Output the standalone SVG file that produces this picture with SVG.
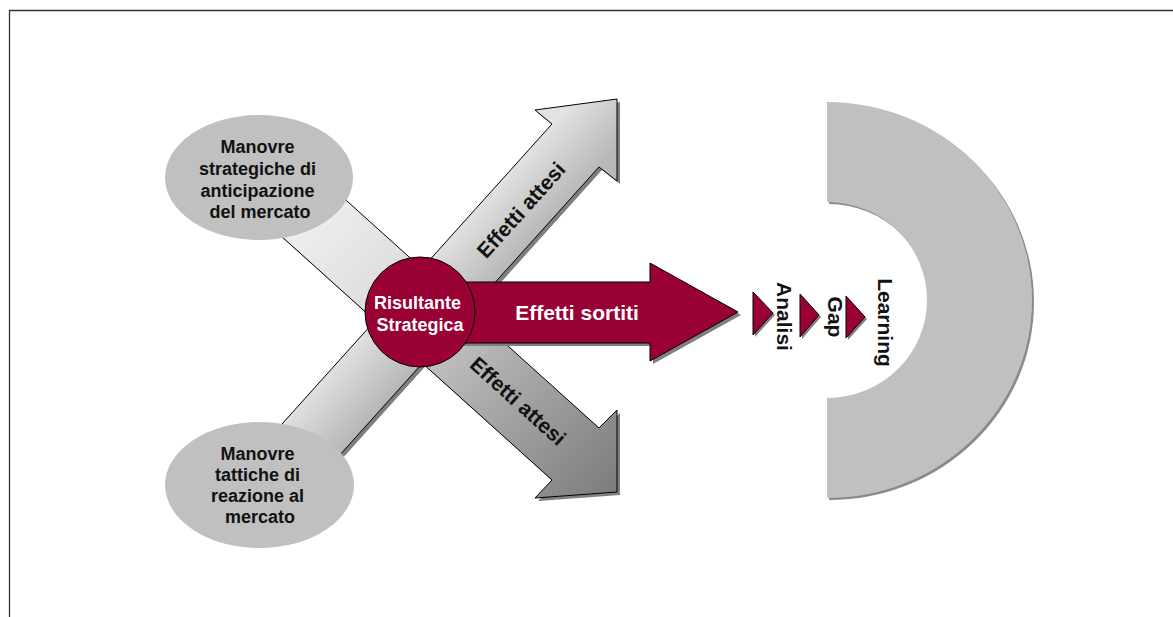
<svg xmlns="http://www.w3.org/2000/svg" xmlns:xlink="http://www.w3.org/1999/xlink" width="1173" height="617" viewBox="0 0 1173 617">
  <style>
    .lbl { font-family: "Liberation Sans", Arial, sans-serif; font-weight: bold; }
    .dark { fill: #111111; }
    .light { fill: #ffffff; }
    .outline { stroke: #000000; stroke-width: 1; stroke-linejoin: miter; }
    .shadow { fill: #7f7f7f; stroke: none; }
    .oval { fill: #c0c0c0; }
    .crimson { fill: #990033; }
  </style>
  <defs>
    <!-- diagonal arrow rising to the upper right -->
    <polygon id="arrowUp" points="617,99 617,181 599,167 311,487 264,444 552,124 535,110"/>
    <!-- diagonal arrow descending to the lower right -->
    <polygon id="arrowDown" points="617,492 617,410 599,428 287,147 240,199 552,480 535,498"/>
    <!-- horizontal outcome arrow -->
    <polygon id="arrowOut" points="420,282 650,282 650,263 738,312 650,361 650,343 420,343"/>
    <path id="ring" d="M827,102 A205,198 0 0 1 827,498 L827,398 A100,98 0 0 0 827,202 Z"/>
    <polygon id="tri1" points="753,292 773,313 753,335"/>
    <polygon id="tri2" points="800,294 819,315 800,337"/>
    <polygon id="tri3" points="846,296 865,317 846,338"/>
    <linearGradient id="gradUp" gradientUnits="userSpaceOnUse" x1="552" y1="124" x2="599" y2="167">
      <stop offset="0" stop-color="#e2e2e2"/>
      <stop offset="1" stop-color="#b8b8b8"/>
    </linearGradient>
    <linearGradient id="gradDown" gradientUnits="userSpaceOnUse" x1="263" y1="173" x2="617" y2="492">
      <stop offset="0" stop-color="#f8f8f8"/>
      <stop offset="0.35" stop-color="#dedede"/>
      <stop offset="0.6" stop-color="#b4b4b4"/>
      <stop offset="1" stop-color="#7c7c7c"/>
    </linearGradient>
  </defs>

  <!-- page frame -->
  <path d="M9.5,617 V10.5 H1173" fill="none" stroke="#333333" stroke-width="1.3"/>

  <!-- learning gap half ring -->
  <g id="learning-ring">
    <use xlink:href="#ring" fill="#8a8a8a" transform="translate(2,2)"/>
    <use xlink:href="#ring" fill="#c0c0c0"/>
  </g>

  <!-- small step markers -->
  <g id="step-markers">
    <use xlink:href="#tri1" class="shadow" transform="translate(2,2)"/>
    <use xlink:href="#tri2" class="shadow" transform="translate(2,2)"/>
    <use xlink:href="#tri3" class="shadow" transform="translate(2,2)"/>
    <use xlink:href="#tri1" class="crimson outline"/>
    <use xlink:href="#tri2" class="crimson outline"/>
    <use xlink:href="#tri3" class="crimson outline"/>
  </g>

  <g id="label-analisi">
    <text class="lbl dark" font-size="21" text-anchor="middle" transform="translate(777,316.5) rotate(90)">Analisi</text>
  </g>
  <g id="label-gap">
    <text class="lbl dark" font-size="21" text-anchor="middle" transform="translate(827.5,317) rotate(90)">Gap</text>
  </g>
  <g id="label-learning">
    <text class="lbl dark" font-size="21" text-anchor="middle" transform="translate(878,322.5) rotate(90)">Learning</text>
  </g>

  <!-- connectors: crossing arrows and outcome arrow -->
  <g id="connectors">
    <g id="arrow-attesi-down">
      <use xlink:href="#arrowDown" class="shadow" transform="translate(3,3)"/>
      <use xlink:href="#arrowDown" fill="url(#gradDown)" class="outline"/>
      <text class="lbl dark" font-size="21" text-anchor="middle" transform="translate(518,401) rotate(42)" dy="0.35em">Effetti attesi</text>
    </g>
    <g id="arrow-attesi-up">
      <use xlink:href="#arrowUp" class="shadow" transform="translate(3,3)"/>
      <use xlink:href="#arrowUp" fill="url(#gradUp)" class="outline"/>
      <text class="lbl dark" font-size="21" text-anchor="middle" transform="translate(521,210) rotate(-48)" dy="0.35em">Effetti attesi</text>
    </g>
    <g id="arrow-sortiti">
      <use xlink:href="#arrowOut" class="shadow" transform="translate(3,3)"/>
      <use xlink:href="#arrowOut" class="crimson outline"/>
      <text class="lbl light" font-size="21" text-anchor="middle" x="577" y="320">Effetti sortiti</text>
    </g>
  </g>

  <!-- source manoeuvres -->
  <g id="node-strategiche">
    <ellipse class="oval" cx="259" cy="177.5" rx="94" ry="62.5"/>
    <text class="lbl dark" font-size="18" text-anchor="middle">
      <tspan x="260" y="153">Manovre</tspan>
      <tspan x="260" y="175">strategiche di</tspan>
      <tspan x="260" y="197">anticipazione</tspan>
      <tspan x="260" y="218">del mercato</tspan>
    </text>
  </g>
  <g id="node-tattiche">
    <ellipse class="oval" cx="259.5" cy="485" rx="94.5" ry="63"/>
    <text class="lbl dark" font-size="18" text-anchor="middle">
      <tspan x="260" y="460">Manovre</tspan>
      <tspan x="260" y="481">tattiche di</tspan>
      <tspan x="260" y="502">reazione al</tspan>
      <tspan x="260" y="523">mercato</tspan>
    </text>
  </g>

  <!-- resulting strategy hub -->
  <g id="node-risultante">
    <circle class="crimson outline" cx="420" cy="312" r="55"/>
    <text class="lbl light" font-size="18" text-anchor="middle">
      <tspan x="420" y="309">Risultante</tspan>
      <tspan x="420" y="331">Strategica</tspan>
    </text>
  </g>
</svg>
